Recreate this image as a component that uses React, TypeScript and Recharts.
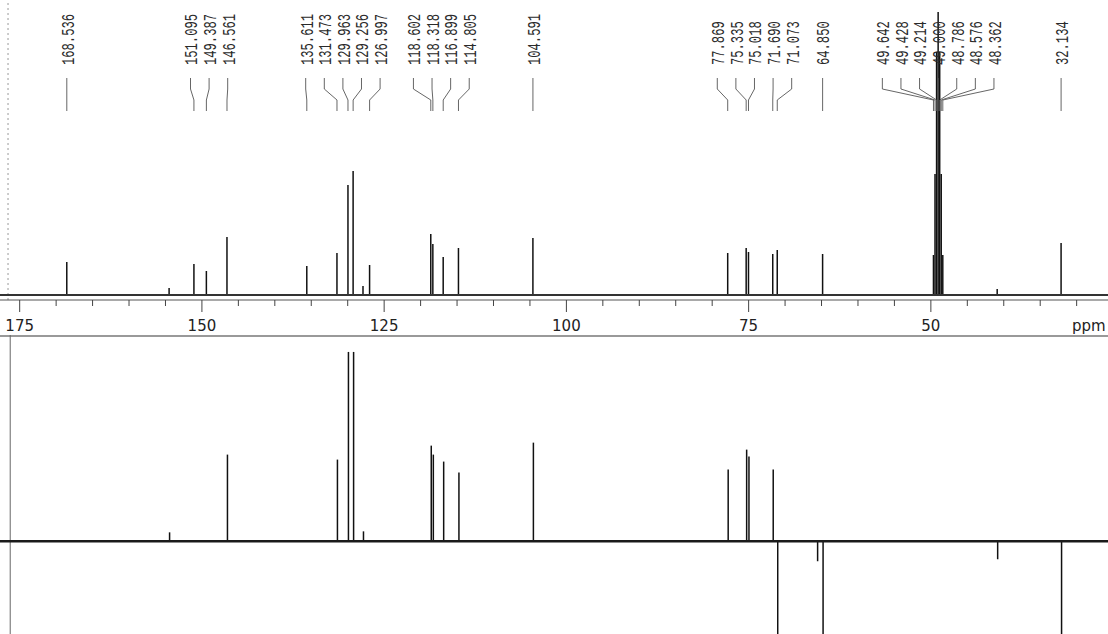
import React from 'react';
import { ComposedChart, Bar, Line, Scatter, XAxis, YAxis, ReferenceLine } from 'recharts';

// ---------- data ----------
const carbonShifts = [
  168.536, 151.095, 149.387, 146.561, 135.611, 131.473, 129.963, 129.256, 126.997,
  118.602, 118.318, 116.899, 114.805, 104.591, 77.869, 75.335, 75.018, 71.69, 71.073,
  64.85, 49.642, 49.428, 49.214, 49.0, 48.786, 48.576, 48.362, 32.134,
];
const carbonIntensity = [
  33, 31, 24, 58, 29, 42, 110, 124, 30,
  61, 51, 38, 47, 57, 42, 47, 43, 41, 45,
  41, 40, 121, 243, 283, 243, 121, 40, 52,
];
const minorShifts = [154.5, 127.9, 40.9];
const minorIntensity = [7, 9, 6];

const deptShifts = [
  154.5, 146.561, 131.473, 129.963, 129.256, 127.9, 118.602, 118.318, 116.899, 114.805,
  104.591, 77.869, 75.335, 75.018, 71.69, 71.073, 65.6, 64.85, 40.9, 32.134,
];
const deptIntensity = [
  9, 87, 82, 190, 190, 10, 96, 87, 80, 69,
  99, 72, 92, 85, 72, -100, -20, -100, -18, -96,
];

const majorTicks = [175, 150, 125, 100, 75, 50];
const minorTicks = [170, 165, 160, 155, 145, 140, 135, 130, 120, 115, 110, 105, 95, 90, 85, 80, 70, 65, 60, 55, 45, 40, 35, 30];
const axisUnit = 'ppm';

// ---------- layout constants ----------
const W = 1108;
const X_MIN = 25.7;
const X_MAX = 177.7;
const PX_PER_PPM = W / (X_MAX - X_MIN);
const TOP_H = 335;
const TOP_AXIS_H = 35;
const TOP_Y_DOMAIN: [number, number] = [-5, 295];
const BOT_H = 299;
const BOT_Y_DOMAIN: [number, number] = [-93, 207];

// label text bottom & connector levels (in top chart value units, 0 = baseline)
const LABEL_Y = 295 - 65;
const C1 = 295 - 78;
const C2 = 295 - 89;
const C3 = 295 - 100;
const C4 = 295 - 111;

const LABEL_GAP = 18.6 / PX_PER_PPM;

function spreadLabels(shifts: number[]): number[] {
  const order = shifts.map((_, i) => i).sort((a, b) => shifts[b] - shifts[a]);
  let groups = order.map((i) => ({ members: [i], center: shifts[i] }));
  let changed = true;
  while (changed) {
    changed = false;
    for (let g = 0; g < groups.length - 1; g++) {
      const a = groups[g];
      const b = groups[g + 1];
      const aLow = a.center - ((a.members.length - 1) / 2) * LABEL_GAP;
      const bHigh = b.center + ((b.members.length - 1) / 2) * LABEL_GAP;
      if (aLow - bHigh < LABEL_GAP - 1e-9) {
        const members = [...a.members, ...b.members];
        const center = members.reduce((s, i) => s + shifts[i], 0) / members.length;
        groups.splice(g, 2, { members, center });
        changed = true;
        break;
      }
    }
  }
  const pos: number[] = new Array(shifts.length);
  groups.forEach((g) =>
    g.members.forEach((i, k) => {
      pos[i] = g.center + ((g.members.length - 1) / 2 - k) * LABEL_GAP;
    })
  );
  return pos;
}

const labelPos = spreadLabels(carbonShifts);

const topData = [
  ...carbonShifts.map((x, i) => ({ x, y: carbonIntensity[i] })),
  ...minorShifts.map((x, i) => ({ x, y: minorIntensity[i] })),
].sort((a, b) => b.x - a.x);

const deptData = deptShifts.map((x, i) => ({ x, y: deptIntensity[i] }));

const labelData = carbonShifts.map((s, i) => ({ x: labelPos[i], y: LABEL_Y, label: s.toFixed(3) }));

const connectorData: { x: number; y: number | null }[] = [];
carbonShifts.forEach((s, i) => {
  connectorData.push({ x: labelPos[i], y: C1 });
  connectorData.push({ x: labelPos[i], y: C2 });
  connectorData.push({ x: s, y: C3 });
  connectorData.push({ x: s, y: C4 });
  connectorData.push({ x: s, y: null });
});

// ---------- render helpers ----------
const PeakLine = (props: any) => {
  const { x, y, width, height } = props;
  if (x == null || y == null || !height) return <g />;
  const cx = x + (width || 0) / 2;
  const y1 = Math.min(y, y + height);
  const y2 = Math.max(y, y + height);
  return <line x1={cx} x2={cx} y1={y1} y2={y2} stroke="#111" strokeWidth={1.5} />;
};

const LabelShape = (props: any) => {
  const { cx, cy, payload } = props;
  if (cx == null || cy == null) return <g />;
  return (
    <text
      transform={`translate(${cx},${cy}) rotate(-90) scale(0.64,1)`}
      x={0}
      y={0}
      dy="0.36em"
      textAnchor="start"
      fontFamily="'Liberation Mono', 'DejaVu Sans Mono', monospace"
      fontSize={19}
      fill="#2a2a2a"
    >
      {payload.label}
    </text>
  );
};

const AxisTick = (props: any) => {
  const { x, y, payload } = props;
  const v = payload.value;
  const major = majorTicks.includes(v);
  return (
    <g>
      <line x1={x} x2={x} y1={y} y2={y + (major ? 12 : 6)} stroke="#444" strokeWidth={1} />
      {major && (
        <text x={x} y={y + 31} textAnchor="middle" fontFamily="'DejaVu Sans', sans-serif" fontSize={15} fill="#222">
          {v}
        </text>
      )}
    </g>
  );
};

const UnitLabel = (props: any) => {
  const vb = props.viewBox || { x: 0, y: 0, width: W, height: 0 };
  return (
    <text x={vb.x + vb.width - 36} y={vb.y + 31} fontFamily="'DejaVu Sans', sans-serif" fontSize={15} fill="#222">
      {axisUnit}
    </text>
  );
};

export default function App() {
  return (
    <div style={{ position: 'absolute', left: 0, top: 0, width: W, height: 634, overflow: 'hidden', background: '#fff' }}>
      <ComposedChart width={W} height={TOP_H} data={topData} margin={{ top: 0, right: 0, bottom: 0, left: 0 }}>
        <XAxis
          dataKey="x"
          type="number"
          domain={[X_MIN, X_MAX]}
          allowDataOverflow
          reversed
          ticks={[...majorTicks, ...minorTicks]}
          interval={0}
          tickLine={false}
          tickSize={0}
          tickMargin={0}
          tick={<AxisTick />}
          height={TOP_AXIS_H}
          axisLine={{ stroke: '#555', strokeWidth: 1 }}
          label={<UnitLabel />}
        />
        <YAxis hide type="number" domain={TOP_Y_DOMAIN} allowDataOverflow />
        <ReferenceLine x={176.6} stroke="#999" strokeDasharray="2 3" />
        <ReferenceLine y={0} stroke="#333" strokeWidth={1.8} />
        <Bar dataKey="y" fill="#111" barSize={1} shape={<PeakLine />} isAnimationActive={false} />
        <Line
          data={connectorData}
          dataKey="y"
          stroke="#555"
          strokeWidth={0.9}
          dot={false}
          activeDot={false}
          connectNulls={false}
          isAnimationActive={false}
        />
        <Scatter data={labelData} dataKey="y" shape={<LabelShape />} isAnimationActive={false} />
      </ComposedChart>
      <ComposedChart width={W} height={BOT_H} data={deptData} margin={{ top: 0, right: 0, bottom: 0, left: 0 }}>
        <XAxis dataKey="x" type="number" domain={[X_MIN, X_MAX]} allowDataOverflow reversed hide />
        <YAxis hide type="number" domain={BOT_Y_DOMAIN} allowDataOverflow />
        <ReferenceLine y={206} stroke="#777" strokeWidth={1.5} />
        <ReferenceLine x={176.3} stroke="#666" strokeWidth={1} />
        <ReferenceLine y={0} stroke="#1a1a1a" strokeWidth={2.6} />
        <Bar dataKey="y" fill="#111" barSize={1} shape={<PeakLine />} isAnimationActive={false} />
      </ComposedChart>
    </div>
  );
}
